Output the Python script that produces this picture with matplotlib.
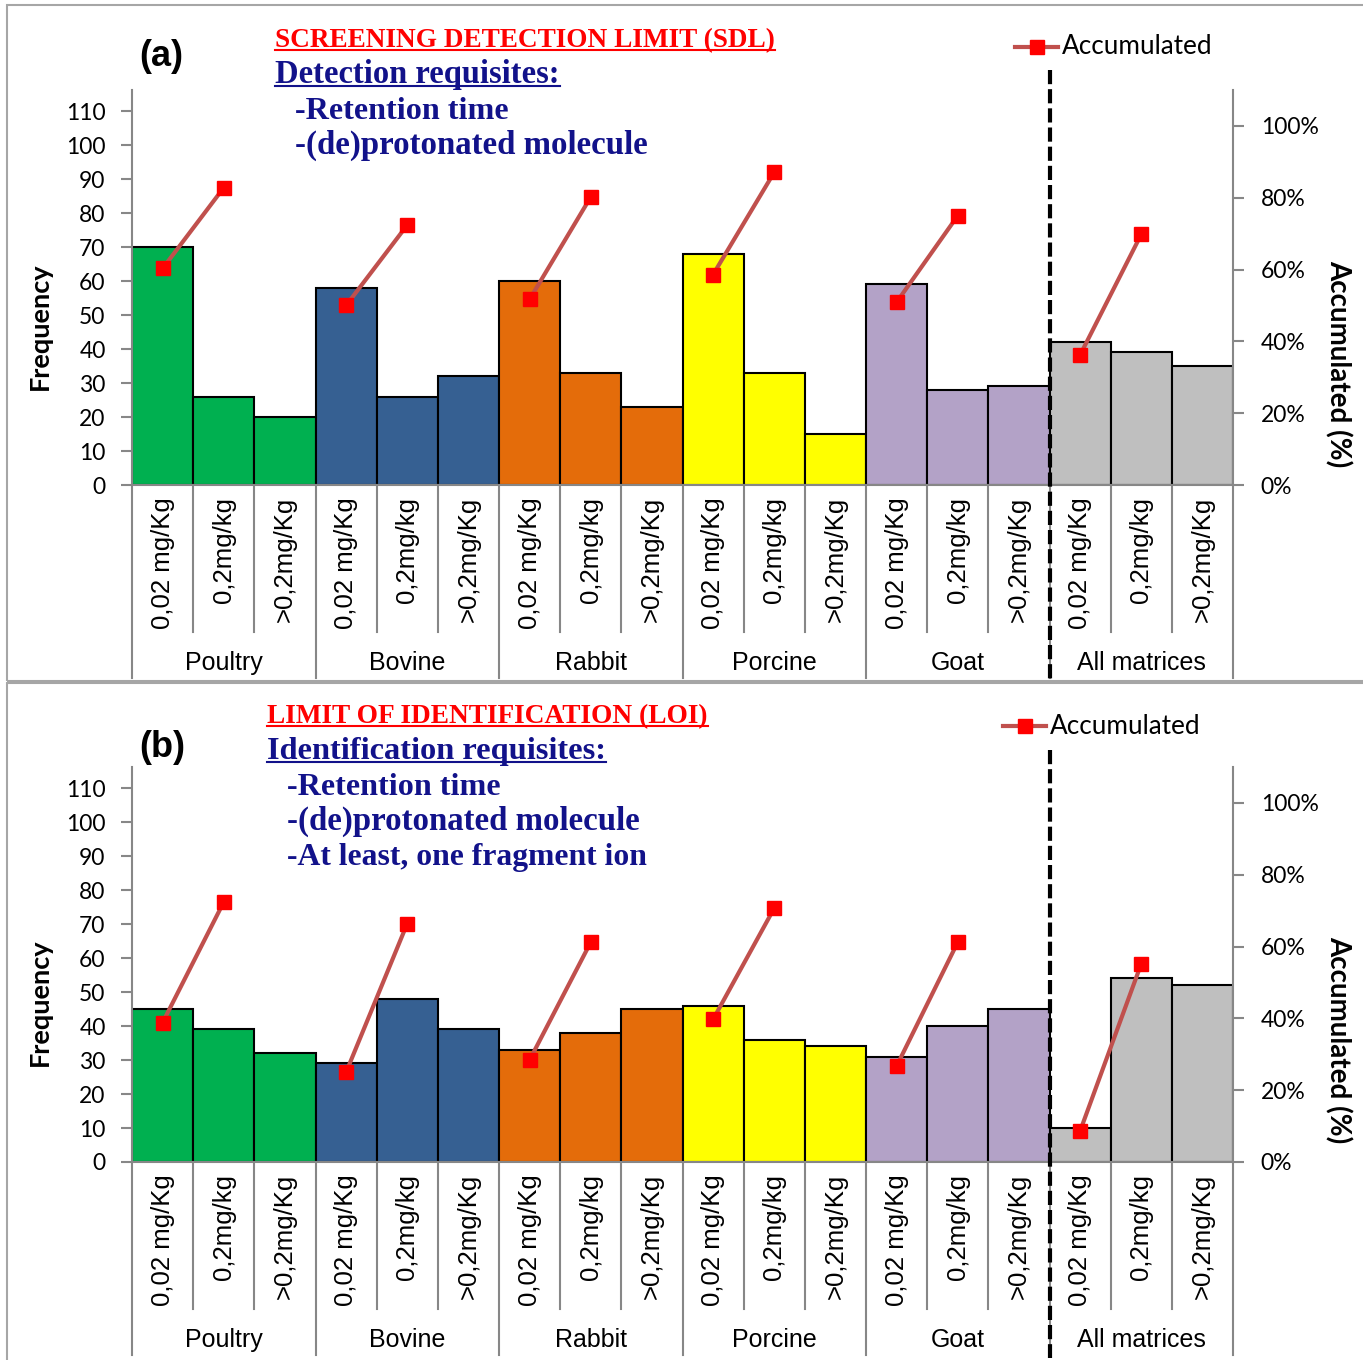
import matplotlib
matplotlib.use("Agg")
import matplotlib.pyplot as plt
from matplotlib.lines import Line2D
from matplotlib.patches import Rectangle
import matplotlib.transforms as mtrans

# ---------------- data ----------------
groups = ["Poultry", "Bovine", "Rabbit", "Porcine", "Goat", "All matrices"]
levels = ["0,02 mg/Kg", "0,2mg/kg", ">0,2mg/Kg"]
group_colors = ["#00B050", "#366092", "#E46C0A", "#FFFF00", "#B3A2C7", "#BFBFBF"]

freq_sdl = [70, 26, 20, 58, 26, 32, 60, 33, 23, 68, 33, 15, 59, 28, 29, 42, 39, 35]
acc_sdl = [0.603, 0.828, 0.500, 0.724, 0.517, 0.802, 0.586, 0.871, 0.509, 0.750, 0.362, 0.698]

freq_loi = [45, 39, 32, 29, 48, 39, 33, 38, 45, 46, 36, 34, 31, 40, 45, 10, 54, 52]
acc_loi = [0.388, 0.724, 0.250, 0.664, 0.284, 0.612, 0.397, 0.707, 0.267, 0.612, 0.086, 0.552]

freq_ticks = list(range(0, 111, 10))
pct_ticks = [0, 0.2, 0.4, 0.6, 0.8, 1.0]
pct_labels = ["0%", "20%", "40%", "60%", "80%", "100%"]

title_a = ["SCREENING DETECTION LIMIT (SDL)", "Detection requisites:",
           "-Retention time", "-(de)protonated molecule"]
title_b = ["LIMIT OF IDENTIFICATION (LOI)", "Identification requisites:",
           "-Retention time", "-(de)protonated molecule", "-At least, one fragment ion"]

# ---------------- layout helpers ----------------
W, H = 1363, 1360
fig = plt.figure(figsize=(W / 100, H / 100), dpi=100)
fig.patch.set_facecolor("white")


def fx(x):
    return x / W


def fy(y):
    return 1 - y / H


GRAY = "#878787"
LINE_RED = "#C0504D"
MARK_RED = "#FF0000"
NAVY = "#12128A"
CAT_FONT = "Liberation Sans"
NUM_FONT = "Lato"
SERIF = "Liberation Serif"


def draw_panel(y_bottom, y_top, freq, acc, dash_top):
    ax = fig.add_axes([fx(132), fy(y_bottom), fx(1233) - fx(132), (y_bottom - y_top) / H])
    axh = y_bottom - y_top
    n = len(freq)
    colors = [group_colors[i // 3] for i in range(n)]
    ax.bar(range(n), freq, width=1.0, color=colors, edgecolor="black", linewidth=1.5, zorder=2)
    ax.set_xlim(-0.5, n - 0.5)
    ax.set_ylim(0, 116.2)
    ax.set_yticks(freq_ticks)
    ax.set_xticks([])
    for s in ["top", "right"]:
        ax.spines[s].set_visible(False)
    for s in ["left", "bottom"]:
        ax.spines[s].set_color(GRAY)
        ax.spines[s].set_linewidth(1.5)
    ax.tick_params(axis="y", direction="out", length=8, width=1.5, color=GRAY, pad=11,
                   labelsize=16.5)
    for lab in ax.get_yticklabels():
        lab.set_fontfamily(NUM_FONT)

    ax2 = ax.twinx()
    ax2.set_ylim(0, 1.1)
    ax2.set_yticks(pct_ticks)
    ax2.set_yticklabels(pct_labels)
    for s in ["top", "left", "bottom"]:
        ax2.spines[s].set_visible(False)
    ax2.spines["right"].set_color(GRAY)
    ax2.spines["right"].set_linewidth(1.5)
    ax2.tick_params(axis="y", direction="out", length=8, width=1.5, color=GRAY, pad=12,
                    labelsize=16.5)
    for lab in ax2.get_yticklabels():
        lab.set_fontfamily(NUM_FONT)

    for g in range(len(groups)):
        ax2.plot([3 * g, 3 * g + 1], [acc[2 * g], acc[2 * g + 1]], color=LINE_RED, lw=3,
                 marker="s", ms=10.5, mfc=MARK_RED, mec=MARK_RED, zorder=5, clip_on=False)

    blend = mtrans.blended_transform_factory(ax.transData, ax.transAxes)
    minor_end = -147 / axh
    major_end = -193 / axh
    for k in range(n + 1):
        x = k - 0.5
        yend = major_end if k % 3 == 0 else minor_end
        ax.plot([x, x], [0, yend], transform=blend, color=GRAY, lw=1.5, clip_on=False)
    for i in range(n):
        ax.text(i, -12 / axh, levels[i % 3], transform=blend, rotation=90, ha="center",
                va="top", fontsize=18.5, family=CAT_FONT)
    for g, name in enumerate(groups):
        ax.text(3 * g + 1, -178 / axh, name, transform=blend, ha="center", va="center",
                fontsize=18, family=CAT_FONT)

    blend2 = mtrans.blended_transform_factory(ax2.transData, ax2.transAxes)
    ax2.plot([14.5, 14.5], [(y_bottom - dash_top) / axh, -196 / axh], transform=blend2,
             color="black", lw=3.0, ls=(0, (3.4, 1.2)), clip_on=False, zorder=6)
    return ax, ax2


draw_panel(485, 90, freq_sdl, acc_sdl, 70)
draw_panel(1162, 767, freq_loi, acc_loi, 750)

# panel frames
fig.add_artist(Rectangle((fx(7), fy(681)), 1.2, (681 - 5) / H, transform=fig.transFigure,
                         fill=False, ec="#A6A6A6", lw=1.5, clip_on=False))
fig.add_artist(Rectangle((fx(7), fy(1420)), 1.2, (1420 - 683) / H, transform=fig.transFigure,
                         fill=False, ec="#A6A6A6", lw=1.5, clip_on=False))

# axis titles
for yc, yc2 in [(326, 364), (1002, 1040)]:
    fig.text(fx(40), fy(yc), "Frequency", rotation=90, ha="center", va="center",
             fontsize=19.5, fontweight="bold", family=NUM_FONT)
    fig.text(fx(1338), fy(yc2), "Accumulated (%)", rotation=-90, ha="center", va="center",
             fontsize=20, fontweight="bold", family=NUM_FONT)

# panel letters
fig.text(fx(161), fy(57), "(a)", ha="center", va="center", fontsize=26, fontweight="bold",
         family="Liberation Sans")
fig.text(fx(162), fy(747), "(b)", ha="center", va="center", fontsize=26, fontweight="bold",
         family="Liberation Sans")

# legends
for ly, lx0 in [(47, 1015), (726, 1003)]:
    fig.add_artist(Line2D([fx(lx0), fx(lx0 + 43)], [fy(ly), fy(ly)], transform=fig.transFigure,
                          color=LINE_RED, lw=3))
    fig.add_artist(Line2D([fx(lx0 + 22)], [fy(ly)], transform=fig.transFigure, marker="s",
                          ms=10.5, mfc=MARK_RED, mec=MARK_RED, ls="none"))
    fig.text(fx(lx0 + 47), fy(ly), "Accumulated", ha="left", va="center", fontsize=18.8,
             family=NUM_FONT)

# title blocks: (lines, x of first two lines, x of bullet lines, baselines, right edges)
specs = [
    (title_a, 275, 295, [47, 83, 119, 154], [772, 559, 508, 648]),
    (title_b, 267, 287, [723, 759, 795, 830, 865], [707, 606, 500, 640, 646]),
]
texts = []
for lines, x0, x1, ys, rights in specs:
    for k, (txt, yb, xr) in enumerate(zip(lines, ys, rights)):
        color = "#FF0000" if k == 0 else NAVY
        xpos = x0 if k < 2 else x1
        t = fig.text(fx(xpos), fy(yb), txt, ha="left", va="baseline", fontsize=20,
                     fontweight="bold", family=SERIF, color=color)
        texts.append((t, yb, color, k < 2, xr - xpos))

fig.canvas.draw()
renderer = fig.canvas.get_renderer()
# fit font size to the measured text widths of the reference
for t, yb, color, ul, target in texts:
    bb = t.get_window_extent(renderer)
    t.set_fontsize(20 * target / bb.width)
fig.canvas.draw()
for t, yb, color, ul, target in texts:
    if ul:
        bb = t.get_window_extent(renderer)
        fig.add_artist(Line2D([bb.x0 / W, bb.x1 / W], [fy(yb + 3), fy(yb + 3)],
                              transform=fig.transFigure, color=color, lw=1.5))

fig.savefig("out.png", dpi=100)
